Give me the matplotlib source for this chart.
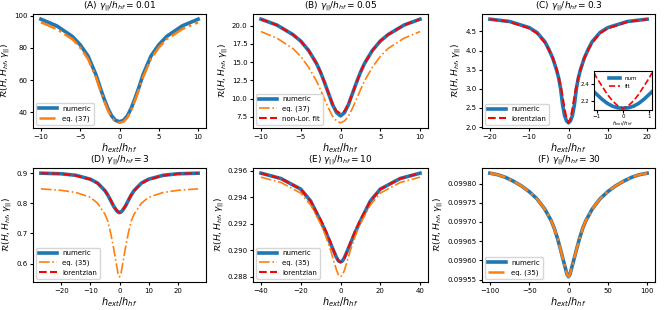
import matplotlib
matplotlib.use("Agg")
import matplotlib.pyplot as plt
from matplotlib.ticker import FormatStrFormatter

# panel A  gamma/h_hf = 0.01
xa = [-10, -8, -6, -5, -4, -3, -2.5, -2, -1.5, -1, -0.5, 0, 0.5, 1, 1.5, 2, 2.5, 3, 4, 5, 6, 8, 10]
a_num = [97.9, 93.8, 87.2, 82.0, 75.0, 63.5, 56.0, 49.0, 42.7, 37.8, 35.0, 34.2,
         35.0, 37.8, 42.7, 49.0, 56.0, 63.5, 75.0, 82.0, 87.2, 93.8, 97.9]
a_eq37 = [96.0, 91.8, 85.5, 80.3, 73.2, 62.0, 54.8, 47.8, 41.6, 36.7, 34.2, 33.5,
          34.2, 36.7, 41.6, 47.8, 54.8, 62.0, 73.2, 80.3, 85.5, 91.8, 96.0]

# panel B  gamma/h_hf = 0.05
xb = xa
b_num = [20.9, 20.1, 18.8, 17.9, 16.6, 14.8, 13.6, 12.2, 10.7, 9.2, 8.1, 7.65,
         8.1, 9.2, 10.7, 12.2, 13.6, 14.8, 16.6, 17.9, 18.8, 20.1, 20.9]
b_eq37 = [19.2, 18.3, 16.9, 15.8, 14.3, 12.4, 11.2, 9.9, 8.7, 7.6, 6.95, 6.7,
          6.95, 7.6, 8.7, 9.9, 11.2, 12.4, 14.3, 15.8, 16.9, 18.3, 19.2]
b_fit = [20.9, 20.1, 18.8, 17.9, 16.6, 14.8, 13.6, 12.2, 10.7, 9.3, 8.3, 8.0,
         8.3, 9.3, 10.7, 12.2, 13.6, 14.8, 16.6, 17.9, 18.8, 20.1, 20.9]

# panel C  gamma/h_hf = 0.3
xc = [-20, -15, -10, -8, -6, -5, -4, -3, -2.5, -2, -1.5, -1, -0.5, 0,
      0.5, 1, 1.5, 2, 2.5, 3, 4, 5, 6, 8, 10, 15, 20]
c_num = [4.82, 4.76, 4.60, 4.47, 4.23, 4.03, 3.80, 3.48, 3.28, 3.00, 2.58, 2.30, 2.16, 2.11,
         2.16, 2.30, 2.58, 3.00, 3.28, 3.48, 3.80, 4.03, 4.23, 4.47, 4.60, 4.76, 4.82]
c_lor = [4.82, 4.75, 4.58, 4.45, 4.20, 4.02, 3.80, 3.50, 3.30, 3.08, 2.80, 2.48, 2.22, 2.11,
         2.22, 2.48, 2.80, 3.08, 3.30, 3.50, 3.80, 4.02, 4.20, 4.45, 4.58, 4.75, 4.82]
# inset of C
xi = [-1.1, -1.0, -0.8, -0.6, -0.4, -0.2, 0, 0.2, 0.4, 0.6, 0.8, 1.0, 1.1]
i_num = [2.31, 2.28, 2.22, 2.17, 2.135, 2.115, 2.11, 2.115, 2.135, 2.17, 2.22, 2.28, 2.31]
i_fit = [2.54, 2.48, 2.38, 2.28, 2.20, 2.14, 2.11, 2.14, 2.20, 2.28, 2.38, 2.48, 2.54]

# panel D  gamma/h_hf = 3
xd = [-27, -20, -15, -10, -7.5, -5, -4, -3, -2, -1, -0.5, 0, 0.5, 1, 2, 3, 4, 5, 7.5, 10, 15, 20, 27]
d_num = [0.900, 0.898, 0.893, 0.880, 0.867, 0.842, 0.827, 0.809, 0.790, 0.776, 0.771, 0.769,
         0.771, 0.776, 0.790, 0.809, 0.827, 0.842, 0.867, 0.880, 0.893, 0.898, 0.900]
d_eq35 = [0.848, 0.843, 0.836, 0.820, 0.800, 0.764, 0.740, 0.700, 0.650, 0.594, 0.566, 0.556,
          0.566, 0.594, 0.650, 0.700, 0.740, 0.764, 0.800, 0.820, 0.836, 0.843, 0.848]
d_lor = [0.900, 0.898, 0.892, 0.879, 0.866, 0.842, 0.828, 0.810, 0.791, 0.777, 0.772, 0.770,
         0.772, 0.777, 0.791, 0.810, 0.828, 0.842, 0.866, 0.879, 0.892, 0.898, 0.900]

# panel E  gamma/h_hf = 10
xe = [-40, -30, -20, -15, -10, -7.5, -5, -4, -3, -2, -1, 0, 1, 2, 3, 4, 5, 7.5, 10, 15, 20, 30, 40]
e_num = [0.2958, 0.2954, 0.2946, 0.2937, 0.2922, 0.2914, 0.2905, 0.29015, 0.2898, 0.28945, 0.2892, 0.28912,
         0.2892, 0.28945, 0.2898, 0.29015, 0.2905, 0.2914, 0.2922, 0.2937, 0.2946, 0.2954, 0.2958]
e_eq35 = [0.2955, 0.2951, 0.2943, 0.2934, 0.2920, 0.2911, 0.2900, 0.2895, 0.2890, 0.2885, 0.28815, 0.2880,
          0.28815, 0.2885, 0.2890, 0.2895, 0.2900, 0.2911, 0.2920, 0.2934, 0.2943, 0.2951, 0.2955]
e_lor = [0.2958, 0.2954, 0.2946, 0.2937, 0.2923, 0.2915, 0.2906, 0.2902, 0.2898, 0.28945, 0.28918, 0.2891,
         0.28918, 0.28945, 0.2898, 0.2902, 0.2906, 0.2915, 0.2923, 0.2937, 0.2946, 0.2954, 0.2958]

# panel F  gamma/h_hf = 30
xf = [-100, -90, -80, -70, -60, -50, -40, -30, -22, -18, -14, -10, -7, -4, -2, 0,
      2, 4, 7, 10, 14, 18, 22, 30, 40, 50, 60, 70, 80, 90, 100]
f_num = [0.099827, 0.099823, 0.099816, 0.099806, 0.099794, 0.099779, 0.099760, 0.099733,
         0.099703, 0.099683, 0.099657, 0.099627, 0.099603, 0.099580, 0.099564, 0.099557,
         0.099564, 0.099580, 0.099603, 0.099627, 0.099657, 0.099683, 0.099703, 0.099733,
         0.099760, 0.099779, 0.099794, 0.099806, 0.099816, 0.099823, 0.099827]
f_eq35 = f_num

titles = ["(A) $\\gamma_{||}/h_{hf} = 0.01$", "(B) $\\gamma_{||}/h_{hf} = 0.05$",
          "(C) $\\gamma_{||}/h_{hf} = 0.3$", "(D) $\\gamma_{||}/h_{hf} = 3$",
          "(E) $\\gamma_{||}/h_{hf} = 10$", "(F) $\\gamma_{||}/h_{hf} = 30$"]
yticks = [[40, 60, 80, 100], [7.5, 10, 12.5, 15, 17.5, 20], [2, 2.5, 3, 3.5, 4, 4.5],
          [0.6, 0.7, 0.8, 0.9], [0.288, 0.290, 0.292, 0.294, 0.296],
          [0.09955, 0.0996, 0.09965, 0.0997, 0.09975, 0.0998]]
yfmt = ["%d", "%.1f", "%.1f", "%.1f", "%.3f", "%.5f"]

blue = "#1f77b4"
orange = "#ff7f0e"
W, H = 664, 310
fig = plt.figure(figsize=(6.64, 3.10), dpi=100)

def make_ax(l, r, t, b):
    return fig.add_axes([l / W, (H - b) / H, (r - l) / W, (b - t) / H])

cols = [(33, 206), (253, 428), (482, 655)]
rows = [(14, 128), (168, 282)]
axes = [make_ax(c[0], c[1], r[0], r[1]) for r in rows for c in cols]

def num(ax, x, y):
    ax.plot(x, y, color=blue, lw=2.6, label="numeric")

def eq(ax, x, y, lab, lw=1.2):
    ax.plot(x, y, color=orange, ls="-.", lw=lw, label=lab)

def fit(ax, x, y, lab):
    ax.plot(x, y, color="red", ls="--", lw=1.5, label=lab)

axA, axB, axC, axD, axE, axF = axes
num(axA, xa, a_num); eq(axA, xa, a_eq37, "eq. (37)", lw=1.8)
num(axB, xb, b_num); eq(axB, xb, b_eq37, "eq. (37)"); fit(axB, xb, b_fit, "non-Lor. fit")
num(axC, xc, c_num); fit(axC, xc, c_lor, "lorentzian")
num(axD, xd, d_num); eq(axD, xd, d_eq35, "eq. (35)"); fit(axD, xd, d_lor, "lorentzian")
num(axE, xe, e_num); eq(axE, xe, e_eq35, "eq. (35)"); fit(axE, xe, e_lor, "lorentzian")
num(axF, xf, f_num); eq(axF, xf, f_eq35, "eq. (35)", lw=1.8)

for ax, t, yt, fm in zip(axes, titles, yticks, yfmt):
    ax.set_yticks(yt)
    ax.yaxis.set_major_formatter(FormatStrFormatter(fm))
    ax.set_title(t, fontsize=6.5, pad=2)
    ax.set_xlabel("$h_{ext}/h_{hf}$", fontsize=7, labelpad=1)
    ax.set_ylabel("$\\mathcal{R}(H, H_{hf}, \\gamma_{||})$", fontsize=6.5, labelpad=0.5)
    ax.tick_params(labelsize=5, length=2.5, pad=1.5)
    ax.legend(loc="lower left", fontsize=5, handlelength=2.5)

# inset
axi = make_ax(594, 652, 71, 110)
axi.plot(xi, i_num, color=blue, lw=2.6, label="num")
axi.plot(xi, i_fit, color="red", ls="--", lw=1.2, label="fit")
axi.margins(x=0)
axi.set_xticks([-1, 0, 1])
axi.set_yticks([2.2, 2.4])
axi.tick_params(labelsize=4, length=2, pad=1)
axi.set_xlabel("$h_{ext}/h_{hf}$", fontsize=4, labelpad=0)
axi.legend(loc="upper center", fontsize=4, frameon=False, handlelength=2)

fig.savefig("out.png", dpi=100)
